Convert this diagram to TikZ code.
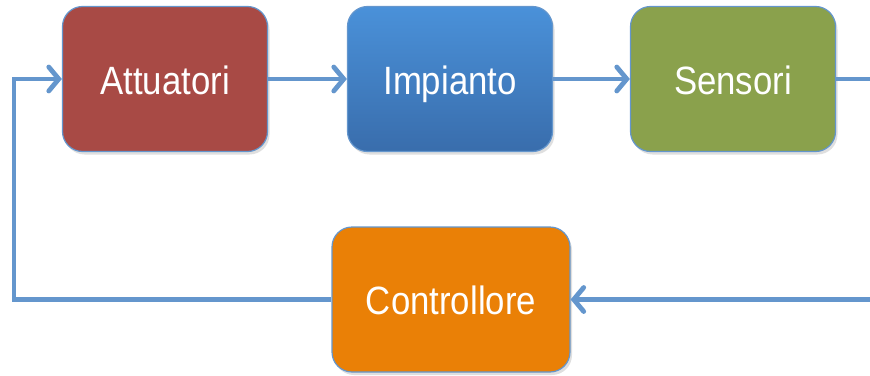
\documentclass[tikz,border=0pt]{standalone}
\usepackage{fontspec}
\setmainfont{Liberation Sans}[FakeStretch=0.88]
\usetikzlibrary{arrows.meta,shadows}
\definecolor{linkblue}{HTML}{6496CD}
\definecolor{attred}{HTML}{A84A45}
\definecolor{impblue1}{HTML}{4A91D9}
\definecolor{impblue2}{HTML}{396DAC}
\definecolor{sensgreen}{HTML}{8AA14C}
\definecolor{ctrlorange}{HTML}{EA8006}
\tikzset{
  blk/.style={draw=linkblue,line width=1.2pt,rounded corners=20pt,
    minimum width=205pt,minimum height=145pt,text=white,
    font=\fontsize{39.5}{41}\selectfont,text height=36pt,text depth=6pt,
    drop shadow={opacity=0.25,shadow xshift=2pt,shadow yshift=-3pt}},
  link/.style={linkblue,line width=4.8pt,
    -{Straight Barb[length=10pt,width=24pt,line cap=round]}}
}
\begin{document}
\begin{tikzpicture}[x=1pt,y=-1pt]
  \useasboundingbox (0,0) rectangle (870,375);
  \clip (0,0) rectangle (870,375);
  \node[blk,fill=attred] (att) at (165,79) {Attuatori};
  \node[blk,top color=impblue1,bottom color=impblue2] (imp) at (450,79) {Impianto};
  \node[blk,fill=sensgreen] (sens) at (733,79) {Sensori};
  \node[blk,fill=ctrlorange,minimum width=238pt] (ctrl) at (451,299.5) {Controllore};
  \draw[link] (att) -- (imp);
  \draw[link] (imp) -- (sens);
  \draw[link] (sens.east) -- (900,79) |- (ctrl.east);
  \draw[link] (ctrl.west) -- (14,299.5) |- (att.west);
\end{tikzpicture}
\end{document}
